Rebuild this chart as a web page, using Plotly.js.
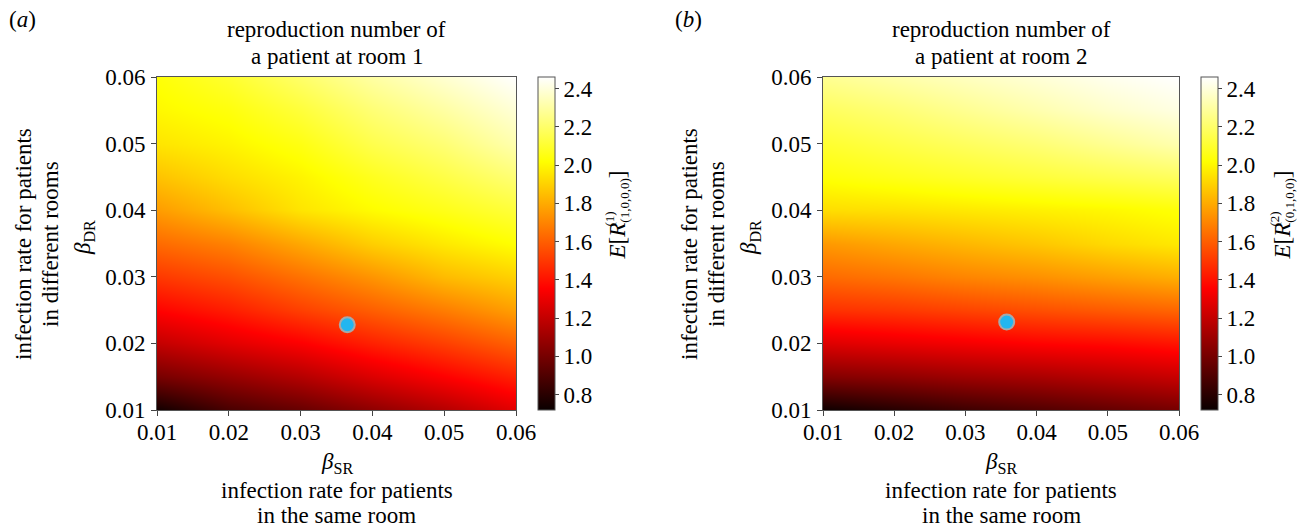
<!DOCTYPE html>
<html>
<head>
<meta charset="utf-8">
<script src="https://cdn.plot.ly/plotly-3.0.1.min.js"></script>
<style>html,body{margin:0;padding:0;background:#fff;}#chart{width:1298px;height:528px;}</style>
</head>
<body>
<div id="chart"></div>
<script>
// ---- data ----
const betaSR = [0.01, 0.02, 0.03, 0.04, 0.05, 0.06];
const betaDR = [0.010, 0.015, 0.020, 0.025, 0.030, 0.035, 0.040, 0.045, 0.050, 0.055, 0.060];

// panel (a): E[R^(1)_(1,0,0,0)], rows follow betaDR (bottom to top), columns follow betaSR
const R1 = [
  [0.74, 0.88, 0.96, 1.06, 1.16, 1.28],
  [1.00, 1.08, 1.16, 1.26, 1.35, 1.44],
  [1.20, 1.28, 1.35, 1.44, 1.52, 1.61],
  [1.36, 1.43, 1.52, 1.60, 1.68, 1.77],
  [1.50, 1.56, 1.65, 1.74, 1.84, 1.90],
  [1.63, 1.69, 1.79, 1.89, 1.96, 2.02],
  [1.76, 1.85, 1.95, 2.01, 2.06, 2.12],
  [1.86, 1.93, 1.99, 2.07, 2.14, 2.22],
  [1.95, 1.99, 2.05, 2.15, 2.22, 2.32],
  [2.00, 2.04, 2.12, 2.22, 2.30, 2.39],
  [2.03, 2.10, 2.20, 2.30, 2.38, 2.46]
];

// panel (b): E[R^(2)_(0,1,0,0)]
const R2 = [
  [0.73, 0.79, 0.85, 0.90, 0.95, 1.00],
  [1.03, 1.06, 1.10, 1.13, 1.17, 1.21],
  [1.27, 1.30, 1.33, 1.36, 1.38, 1.41],
  [1.48, 1.50, 1.53, 1.56, 1.59, 1.62],
  [1.63, 1.66, 1.70, 1.73, 1.77, 1.81],
  [1.75, 1.79, 1.83, 1.87, 1.92, 1.96],
  [1.93, 1.94, 1.96, 1.98, 2.00, 2.03],
  [2.03, 2.06, 2.09, 2.12, 2.15, 2.18],
  [2.10, 2.14, 2.18, 2.22, 2.27, 2.32],
  [2.18, 2.22, 2.27, 2.32, 2.37, 2.41],
  [2.27, 2.31, 2.35, 2.39, 2.43, 2.46]
];

const pointA = {x: [0.0365], y: [0.0228]};
const pointB = {x: [0.0358], y: [0.0232]};

const tickVals = [0.01, 0.02, 0.03, 0.04, 0.05, 0.06];
const cbTicks = [0.8, 1.0, 1.2, 1.4, 1.6, 1.8, 2.0, 2.2, 2.4];
const zMin = 0.72, zMax = 2.46;

// ---- styling ----
const W = 1298, H = 528;
const FONT = '"Liberation Serif", "Times New Roman", Times, serif';
const FS = 23;
const px = v => v / W;
const py = v => 1 - v / H;

const hot = [
  [0, 'rgb(10,0,0)'],
  [0.365079, 'rgb(255,0,0)'],
  [0.746032, 'rgb(255,255,0)'],
  [1, 'rgb(255,255,255)']
];

function cb(xLeft) {
  return {
    x: px(xLeft), xanchor: 'left', xpad: 0,
    y: py(243.5), yanchor: 'middle', ypad: 0,
    len: 333 / H, lenmode: 'fraction',
    thickness: 17, thicknessmode: 'pixels',
    outlinewidth: 1, outlinecolor: '#555',
    ticks: 'outside', ticklen: 4, tickcolor: '#444',
    tickvals: cbTicks, tickformat: '.1f',
    tickfont: {family: FONT, size: FS, color: '#000'}
  };
}

const traces = [
  {type: 'heatmap', x: betaSR, y: betaDR, z: R1, xaxis: 'x', yaxis: 'y',
   colorscale: hot, zmin: zMin, zmax: zMax, zsmooth: 'best', colorbar: cb(538), hoverinfo: 'skip'},
  {type: 'heatmap', x: betaSR, y: betaDR, z: R2, xaxis: 'x2', yaxis: 'y2',
   colorscale: hot, zmin: zMin, zmax: zMax, zsmooth: 'best', colorbar: cb(1201), hoverinfo: 'skip'},
  {type: 'scatter', mode: 'markers', x: pointA.x, y: pointA.y, xaxis: 'x', yaxis: 'y',
   marker: {size: 15, color: '#22b6f0', line: {color: '#a8a8a8', width: 2}}, showlegend: false},
  {type: 'scatter', mode: 'markers', x: pointB.x, y: pointB.y, xaxis: 'x2', yaxis: 'y2',
   marker: {size: 15, color: '#22b6f0', line: {color: '#a8a8a8', width: 2}}, showlegend: false}
];

function ax(domain, anchor, standoff) {
  return {
    domain: domain, anchor: anchor, range: [0.01, 0.06],
    tickvals: tickVals, tickformat: '.2f',
    ticks: 'outside', ticklen: 5, tickcolor: '#444',
    ticklabelstandoff: standoff,
    showline: true, mirror: true, linecolor: '#555', linewidth: 1,
    showgrid: false, zeroline: false,
    tickfont: {family: FONT, size: FS, color: '#000'}
  };
}

const ann = [];
function A(text, x, y, o) {
  ann.push(Object.assign({
    text: text, x: px(x), y: py(y), xref: 'paper', yref: 'paper',
    showarrow: false, xanchor: 'center', yanchor: 'middle',
    font: {family: FONT, size: FS, color: '#000'}
  }, o || {}));
}

const panels = [
  {cx: 336.5, left: 0, lab: '(<i>a</i>)', title2: 'a patient at room 1', cbx: 618,
   sub: '(1,0,0,0)', sup: '(1)'},
  {cx: 1001, left: 666, lab: '(<i>b</i>)', title2: 'a patient at room 2', cbx: 1283,
   sub: '(0,1,0,0)', sup: '(2)'}
];
panels.forEach(p => {
  A(p.lab, 7 + p.left, 20, {xanchor: 'left'});
  A('reproduction number of', p.cx, 30);
  A(p.title2, p.cx, 56);
  A('<i>β</i><sub>SR</sub>', p.cx, 463);
  A('infection rate for patients', p.cx, 490);
  A('in the same room', p.cx, 515);
  A('<i>β</i><sub>DR</sub>', 84 + p.left, 238, {textangle: -90});
  A('infection rate for patients', 23 + p.left, 244, {textangle: -90});
  A('in different rooms', 50 + p.left, 244, {textangle: -90});
  A('<i>E</i>[<i>R</i><sub><span style="font-size:13px">' + p.sub + '</span></sub>]', p.cbx, 262,
    {textangle: -90, yanchor: 'bottom'});
  A(p.sup, p.cbx - 9, 229, {textangle: -90, yanchor: 'bottom', font: {family: FONT, size: 13, color: '#000'}});
});

const layout = {
  width: W, height: H,
  margin: {l: 0, r: 0, t: 0, b: 0},
  paper_bgcolor: '#fff', plot_bgcolor: '#fff',
  font: {family: FONT, size: FS, color: '#000'},
  showlegend: false,
  xaxis: ax([157 / W, 516 / W], 'y', -4),
  yaxis: ax([1 - 410 / H, 1 - 77 / H], 'x', 1),
  xaxis2: ax([823 / W, 1179 / W], 'y2', -4),
  yaxis2: ax([1 - 410 / H, 1 - 77 / H], 'x2', 1),
  annotations: ann
};

Plotly.newPlot('chart', traces, layout, {displayModeBar: false, staticPlot: true});
</script>
</body>
</html>
